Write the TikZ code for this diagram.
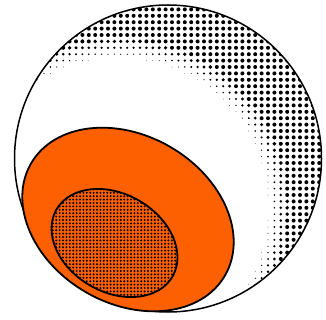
\documentclass[tikz,border=0pt]{standalone}
\usepackage{xcolor}
\definecolor{yolk}{RGB}{253,96,0}

\begin{document}
\begin{tikzpicture}[
  x=1pt, y=-1pt,
  rim/.style={draw=black, line width=1.5pt},
  yolkfill/.style={fill=yolk, draw=black, line width=1.8pt}
]
  \useasboundingbox (0,0) rectangle (326,320);

  % halftone shading on the ball
  \begin{scope}
    \clip (168,158.5) circle (153.5pt);
    \foreach \i in {0,...,50} {
      \foreach \j in {0,...,50} {
        \pgfmathsetmacro\px{12+6.4*\i}
        \pgfmathsetmacro\py{3+6.4*\j}
        \pgfmathsetmacro\dd{veclen(\px-118.5,\py-208)-147}
        \pgfmathsetmacro\rr{min(2.0,\dd/11)}
        \ifdim\rr pt>0.25pt \fill (\px,\py) circle (\rr pt); \fi
      }
    }
  \end{scope}
  \draw[rim] (168,158.5) circle (153.5pt);

  % orange ellipse
  \draw[yolkfill, rotate around={-30:(128,219.5)}] (128,219.5) ellipse (112pt and 84pt);

  % dotted inner ellipse
  \begin{scope}
    \clip[rotate around={-30:(114.5,243)}] (114.5,243) ellipse (67pt and 49pt);
    \foreach \i in {0,...,40} {
      \foreach \j in {0,...,35} {
        \fill (46+3.4*\i,186+3.4*\j) circle (1.1pt);
      }
    }
  \end{scope}
  \draw[line width=1.8pt, rotate around={-30:(114.5,243)}] (114.5,243) ellipse (67pt and 49pt);
\end{tikzpicture}
\end{document}
